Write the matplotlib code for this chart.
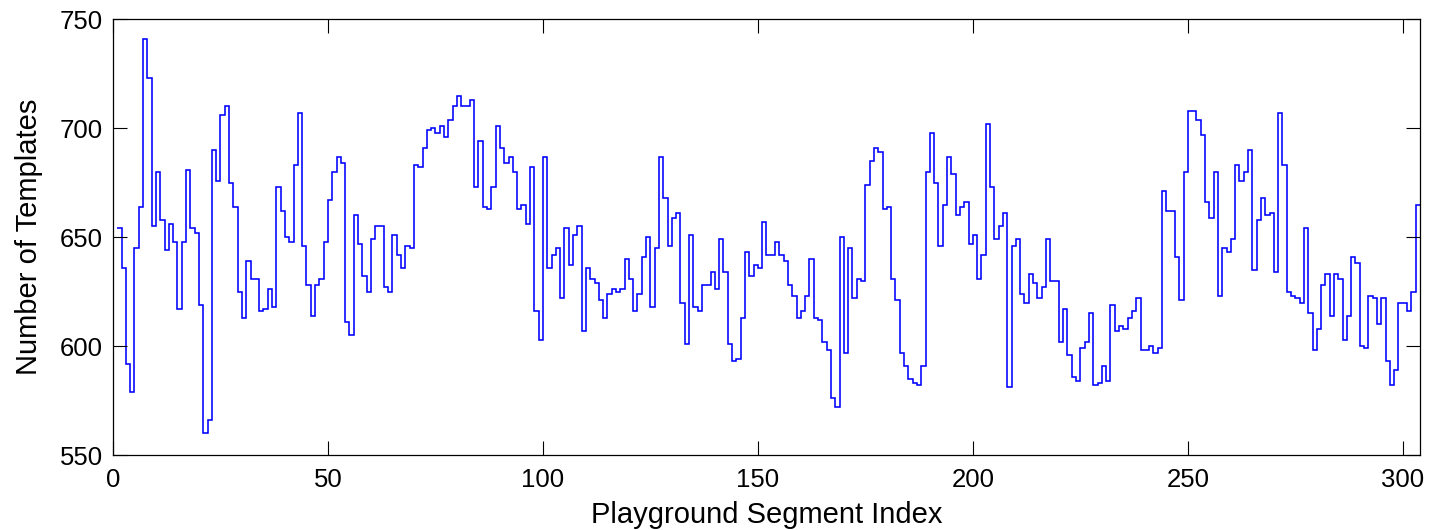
import numpy as np
import matplotlib
matplotlib.use("Agg")
import matplotlib.pyplot as plt

# template count per playground segment (segments 1..303)
template_counts = [
    654, 636, 592, 579, 645, 664, 741, 723, 655, 680,
    658, 644, 656, 648, 617, 648, 681, 654, 652, 619,
    560, 566, 690, 676, 706, 710, 675, 664, 625, 613,
    639, 631, 631, 616, 617, 626, 618, 673, 662, 650,
    648, 683, 707, 646, 628, 614, 628, 631, 648, 667,
    680, 687, 684, 611, 605, 660, 647, 632, 625, 649,
    655, 655, 627, 625, 651, 642, 636, 646, 645, 683,
    682, 691, 699, 700, 698, 701, 696, 704, 710, 715,
    710, 710, 713, 673, 694, 664, 663, 673, 701, 691,
    684, 687, 680, 663, 665, 656, 682, 616, 603, 687,
    636, 642, 645, 622, 654, 637, 651, 655, 607, 636,
    631, 629, 621, 613, 624, 626, 625, 626, 640, 631,
    616, 624, 641, 650, 618, 645, 687, 668, 646, 659,
    661, 620, 601, 651, 618, 616, 628, 628, 634, 626,
    649, 634, 601, 593, 594, 613, 643, 632, 637, 636,
    657, 642, 642, 648, 642, 639, 628, 623, 613, 616,
    623, 640, 613, 612, 602, 598, 576, 572, 650, 597,
    645, 622, 631, 630, 674, 685, 691, 689, 663, 664,
    631, 621, 597, 591, 585, 583, 582, 591, 680, 698,
    675, 646, 665, 687, 679, 660, 664, 666, 647, 651,
    631, 642, 702, 673, 649, 655, 661, 581, 646, 649,
    624, 620, 633, 629, 622, 627, 649, 630, 630, 602,
    617, 596, 586, 584, 599, 602, 615, 582, 583, 591,
    584, 619, 607, 609, 608, 613, 616, 622, 598, 598,
    600, 597, 599, 671, 662, 662, 641, 621, 680, 708,
    708, 704, 697, 666, 659, 680, 623, 645, 643, 649,
    683, 676, 680, 690, 635, 658, 668, 660, 661, 634,
    707, 683, 625, 623, 622, 620, 654, 615, 598, 608,
    628, 633, 614, 633, 631, 603, 614, 641, 638, 600,
    599, 623, 622, 610, 622, 593, 582, 589, 620, 620,
    616, 625, 665,
]
segment_index = np.arange(1, len(template_counts) + 1)

x_ticks = [0, 50, 100, 150, 200, 250, 300]
y_ticks = [550, 600, 650, 700, 750]

plt.rcParams["font.family"] = ["Liberation Sans", "DejaVu Sans"]

fig = plt.figure(figsize=(14.3, 5.3), dpi=100)
ax = fig.add_axes([0.079, 0.1415, 0.914, 0.822])

# one flat step per segment, from its index to the next
edges = np.append(segment_index, segment_index[-1] + 1)
ax.stairs(template_counts, edges, baseline=None, color="#0000ff", linewidth=1.15)

ax.set_xlim(0, 304)
ax.set_ylim(550, 750)
ax.set_xticks(x_ticks)
ax.set_yticks(y_ticks)

ax.tick_params(axis="both", which="both", direction="in", length=10, width=0.8,
               top=True, right=True, labelsize=18.5, color="black")
ax.tick_params(axis="x", pad=9)
ax.tick_params(axis="y", pad=7)
for spine in ax.spines.values():
    spine.set_linewidth(0.9)
    spine.set_color("black")

ax.set_xlabel("Playground Segment Index", fontsize=21, labelpad=7)
ax.set_ylabel("Number of Templates", fontsize=21, labelpad=12)

fig.savefig("out.png", dpi=100)
plt.close(fig)
